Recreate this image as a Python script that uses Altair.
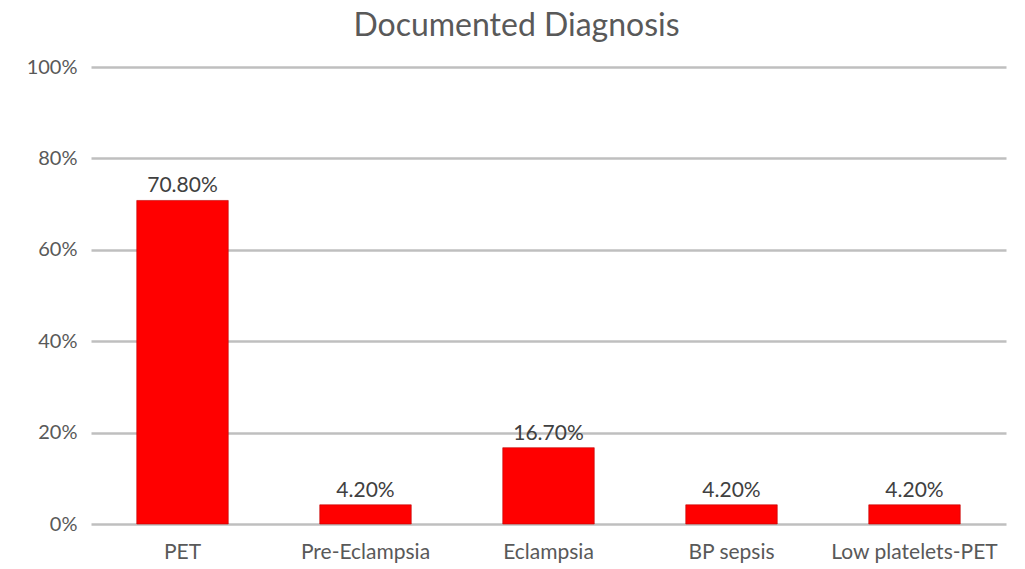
import altair as alt
import pandas as pd

categories = ["PET", "Pre-Eclampsia", "Eclampsia", "BP sepsis", "Low platelets-PET"]
values = [0.708, 0.042, 0.167, 0.042, 0.042]

df = pd.DataFrame({"cat": categories, "val": values})
FONT = "Lato"

base = alt.Chart(df).encode(
    x=alt.X("cat:N", sort=categories, title=None,
            scale=alt.Scale(paddingInner=0.5, paddingOuter=0.25),
            axis=alt.Axis(labelAngle=0, ticks=False, domain=False, labelPadding=17,
                          labelFontSize=21, labelColor="#595959", labelFont=FONT)),
    y=alt.Y("val:Q", title=None,
            scale=alt.Scale(domain=[0, 1]),
            axis=alt.Axis(format=".0%", values=[0, 0.2, 0.4, 0.6, 0.8, 1.0],
                          ticks=False, domain=False, labelPadding=14,
                          labelFontSize=20, labelColor="#595959", labelFont=FONT,
                          gridColor="#bfbfbf", gridWidth=2.5)),
)

bars = base.mark_bar(color="#ff0000", stroke="#c00000", strokeWidth=0.6)
labels = base.mark_text(dy=-14, fontSize=21, color="#404040", font=FONT).encode(
    text=alt.Text("val:Q", format=".2%"))

chart = (bars + labels).properties(
    width=915, height=457,
    autosize=alt.AutoSizeParams(type="none"),
    padding={"left": 83, "top": 59, "right": 11, "bottom": 40},
    title=alt.TitleParams("Documented Diagnosis", fontSize=32, font=FONT, fontWeight="normal",
                          color="#595959", anchor="middle", dx=-32, offset=14),
).configure_view(stroke=None)

chart.save("out.html", embed_options={"renderer": "svg", "actions": False})
